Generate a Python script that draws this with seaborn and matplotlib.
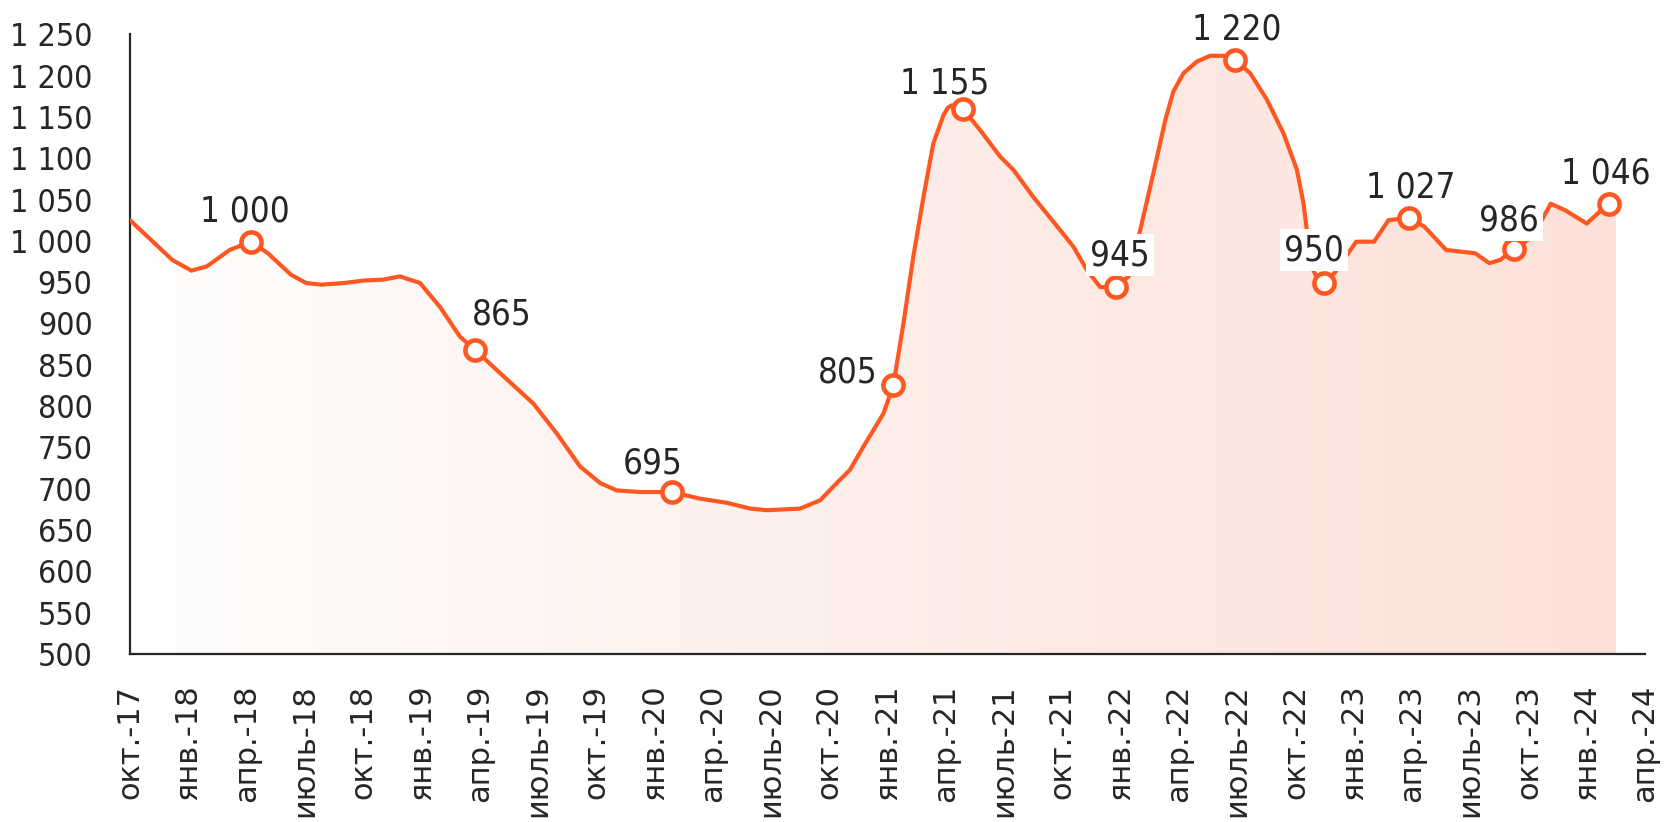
import numpy as np
import pandas as pd
import matplotlib
matplotlib.use("Agg")
import matplotlib.pyplot as plt
from matplotlib.colors import LinearSegmentedColormap
import seaborn as sns

# months counted from Oct 2017 (0 = "окт.-17")
months = [0.0, 1.18, 2.17, 3.16, 3.95, 5.13, 6.22, 7.10, 8.29, 9.07,
          9.86, 11.04, 12.03, 13.01, 13.90, 14.93, 15.96, 16.99, 17.77, 19.05,
          20.77, 21.97, 23.17, 24.20, 25.06, 26.26, 27.89, 29.35, 30.73, 31.93,
          32.79, 34.50, 35.53, 36.39, 37.07, 37.76, 38.79, 39.30, 39.82, 40.33,
          40.85, 41.36, 41.88, 42.10, 42.31, 42.91, 43.77, 44.80, 45.48, 46.51,
          47.89, 48.57, 49.26, 49.95, 50.77, 51.41, 52.01, 52.69, 53.30, 53.72,
          54.24, 54.93, 55.61, 56.30, 56.87, 57.67, 58.53, 59.39, 60.08, 60.42,
          60.59, 60.76, 61.11, 61.49, 62.01, 63.13, 64.05, 64.79, 65.85, 66.65,
          67.76, 68.51, 69.25, 69.99, 70.55, 71.25, 72.21, 73.15, 73.89, 75.0,
          75.65, 76.15]
values = [1025, 999, 977, 964, 969, 989, 999, 985, 959, 949,
          947, 949, 952, 953, 957, 949, 920, 884, 868, 840,
          803, 767, 727, 707, 698, 696, 696, 688, 683, 676,
          674, 676, 686, 707, 723, 751, 791, 825, 900, 981,
          1053, 1118, 1152, 1161, 1164, 1159, 1134, 1102, 1086, 1053,
          1013, 993, 965, 944, 944, 957, 1013, 1082, 1146, 1181,
          1203, 1217, 1224, 1224, 1219, 1203, 1171, 1130, 1086, 1045,
          1013, 973, 955, 949, 961, 999, 999, 1025, 1028, 1017,
          989, 987, 985, 973, 977, 990, 1005, 1045, 1037, 1021,
          1035, 1045]

# highlighted points and their printed labels
marker_months = [6.22, 17.77, 27.89, 39.30, 42.91, 50.77, 56.87, 61.49, 65.85, 71.25, 76.15]
marker_values = [999, 868, 696, 825, 1159, 944, 1219, 949, 1028, 990, 1045]
marker_labels = ["1 000", "865", "695", "805", "1 155", "945", "1 220", "950", "1 027", "986", "1 046"]

tick_labels = ["окт.-17", "янв.-18", "апр.-18", "июль-18", "окт.-18", "янв.-19", "апр.-19",
               "июль-19", "окт.-19", "янв.-20", "апр.-20", "июль-20", "окт.-20", "янв.-21",
               "апр.-21", "июль-21", "окт.-21", "янв.-22", "апр.-22", "июль-22", "окт.-22",
               "янв.-23", "апр.-23", "июль-23", "окт.-23", "янв.-24", "апр.-24"]
y_ticks = list(range(500, 1251, 50))

# label placement (pixel offsets from the marker), white box flag
label_offsets = [(-6, 20), (27, 25), (-19, 19), (-16, 3), (-19, 16), (4, 22),
                 (2, 20), (-10, 23), (2, 20), (-5, 19), (-3, 20)]
label_boxed = [False, False, False, False, False, True, False, True, False, True, False]

df = pd.DataFrame({"month": months, "value": values})
pts = pd.DataFrame({"month": marker_months, "value": marker_values})

sns.set_style("white")
plt.rcParams["font.family"] = ["DejaVu Sans"]

LINE = "#ff5722"
INK = "#262626"

fig = plt.figure(figsize=(16.65, 8.22), dpi=100)
ax = fig.add_axes([130 / 1665, 1 - 654 / 822, 1515 / 1665, 619.7 / 822])

# gradient area under the curve (runs a little past the last point)
area_x = months + [76.5]
area_y = values + [values[-1]]
area = ax.fill_between(area_x, area_y, 500, color="none", lw=0)
cmap = LinearSegmentedColormap.from_list("fill", ["#fffefd", "#fdeee9", "#fce1d8"])
grad = np.linspace(0, 1, 256).reshape(1, -1)
im = ax.imshow(grad, extent=[0, 76.5, 500, 1250], aspect="auto",
               cmap=cmap, origin="lower", zorder=1)
im.set_clip_path(area.get_paths()[0], transform=ax.transData)

sns.lineplot(data=df, x="month", y="value", ax=ax, color=LINE, lw=3.0,
             sort=False, zorder=3)
ax.lines[-1].set_solid_joinstyle("round")
ax.lines[-1].set_solid_capstyle("round")
ax.plot(pts["month"], pts["value"], "o", ms=14.5, mfc="white", mec=LINE,
        mew=3.3, zorder=4)

for m, v, txt, (dx, dy), boxed in zip(marker_months, marker_values, marker_labels,
                                      label_offsets, label_boxed):
    ha = "right" if txt == "805" else "center"
    ax.annotate(txt, (m, v), xytext=(dx, dy), textcoords="offset pixels",
                ha=ha, va="baseline", fontsize=25, fontstretch="condensed",
                color=INK, zorder=5,
                bbox=dict(boxstyle="square,pad=0.12", fc="white", ec="none") if boxed else None)

ax.set_xlim(0, 78)
ax.set_ylim(500, 1250)
ax.set_xticks(range(0, 79, 3))
ax.set_xticklabels(tick_labels, rotation=90, fontsize=22, color=INK)
ax.set_yticks(y_ticks)
ax.set_yticklabels([f"{t:,}".replace(",", " ") for t in y_ticks],
                   fontsize=23, fontstretch="condensed", color=INK)
ax.tick_params(axis="x", direction="out", length=12, width=1.6, color=INK, pad=10)
ax.tick_params(axis="y", direction="out", length=11, width=1.6, color=INK, pad=16)
ax.set_xlabel("")
ax.set_ylabel("")
sns.despine(ax=ax)
for side in ("left", "bottom"):
    ax.spines[side].set_color(INK)
    ax.spines[side].set_linewidth(1.6)

fig.savefig("out.png", dpi=100, facecolor="white")
